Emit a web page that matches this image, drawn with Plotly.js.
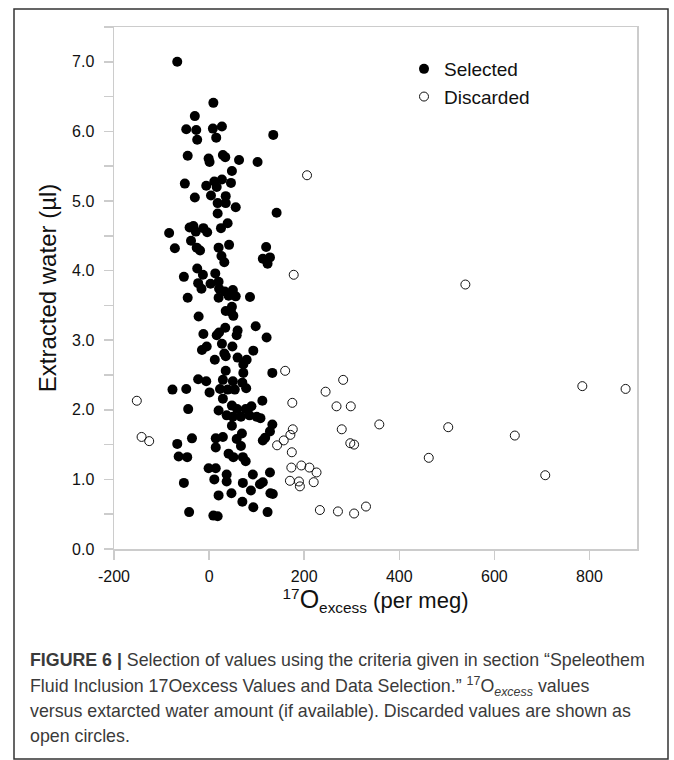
<!DOCTYPE html>
<html><head><meta charset="utf-8">
<script src="https://cdn.plot.ly/plotly-3.0.1.min.js"></script>
<style>html,body{margin:0;padding:0;background:#fff}</style>
</head><body><div id="chart" style="width:674px;height:760px"></div>
<script>
// Selected (filled) points: 17O-excess (per meg) and extracted water (µl)
const selectedX = [-67,9,-30,-48,-27,8,27,-25,15,135,-45,-1,1,29,34,63,102,48,-51,-6,11,16,27,46,-30,4,18,35,35,56,18,142,-84,-41,-33,-28,-12,-4,25,39,-72,-38,-26,-19,20,42,26,32,120,113,128,123,-25,-53,-13,13,-23,-16,3,20,21,33,50,56,-45,20,41,86,-22,35,48,51,46,34,98,-12,16,21,60,58,121,
 -15,-5,12,27,32,49,35,60,79,93,72,35,72,133,-23,-6,-77,-48,1,23,29,50,70,39,54,78,29,112,-44,20,48,37,50,59,77,89,85,100,108,48,67,133,128,118,113,-67,-36,14,29,14,58,69,67,-64,-46,41,51,71,77,-1,14,37,37,11,92,128,-53,71,107,113,88,129,134,20,47,70,93,-42,9,18,123];
const selectedY = [7.0,6.41,6.22,6.03,6.02,6.04,6.07,5.88,5.91,5.95,5.65,5.61,5.56,5.66,5.63,5.59,5.56,5.43,5.25,5.22,5.28,5.20,5.31,5.26,5.05,5.08,4.97,5.07,4.97,4.91,4.82,4.83,4.54,4.62,4.64,4.56,4.61,4.55,4.61,4.68,4.32,4.43,4.33,4.29,4.33,4.37,4.21,4.12,4.34,4.17,4.19,4.10,4.03,3.91,3.94,3.96,3.82,3.74,3.81,3.84,3.74,3.70,3.72,3.63,3.61,3.61,3.64,3.62,3.34,3.42,3.48,3.35,3.41,3.18,3.20,3.09,3.07,3.11,3.14,3.07,3.04,
 2.86,2.91,2.72,2.95,2.81,2.91,2.77,2.75,2.72,2.85,2.65,2.56,2.53,2.53,2.44,2.41,2.29,2.30,2.25,2.30,2.43,2.41,2.39,2.29,2.29,2.31,2.16,2.13,2.01,1.99,2.06,1.92,1.90,2.01,2.01,2.05,1.92,1.90,1.88,1.77,1.90,1.79,1.69,1.60,1.56,1.51,1.59,1.59,1.61,1.46,1.58,1.66,1.48,1.33,1.32,1.37,1.32,1.32,1.26,1.16,1.16,1.07,0.97,1.00,1.07,1.10,0.95,0.95,0.93,0.96,0.84,0.80,0.79,0.77,0.80,0.68,0.60,0.53,0.48,0.47,0.53];
// Discarded (open) points
const discardedX = [206,178,539,-152,-142,-126,160,245,175,176,171,157,143,174,173,194,211,226,170,189,191,220,233,282,268,298,279,358,297,305,503,462,643,707,785,876,271,305,330];
const discardedY = [5.37,3.94,3.80,2.13,1.61,1.55,2.56,2.26,2.10,1.72,1.64,1.56,1.49,1.39,1.17,1.20,1.17,1.10,0.98,0.97,0.90,0.96,0.56,2.43,2.05,2.05,1.72,1.79,1.52,1.50,1.75,1.31,1.63,1.06,2.34,2.30,0.54,0.51,0.61];
const seriesNames = ['Selected','Discarded'];
const xTickVals = [-200,0,200,400,600,800];
const yTickVals = [0,1,2,3,4,5,6,7];

const W=674,H=760, L=114, R=637, T=27, B=549;
const px = v => (v-L)/(R-L);
const py = v => (B-v)/(B-T);
const FONT = 'Liberation Sans, Arial, Helvetica, sans-serif';

const traces = [
 {x:selectedX,y:selectedY,name:seriesNames[0],type:'scatter',mode:'markers',
  marker:{color:'#000',size:10,line:{width:0}}},
 {x:discardedX,y:discardedY,name:seriesNames[1],type:'scatter',mode:'markers',
  marker:{color:'rgba(255,255,255,0)',size:9,line:{color:'#111',width:1}}}
];

const captionLines = [
 '<b>FIGURE 6 |</b> Selection of values using the criteria given in section “Speleothem',
 'Fluid Inclusion 17Oexcess Values and Data Selection.” <sup>17</sup>O<sub><i>excess</i></sub> values',
 'versus extarcted water amount (if available). Discarded values are shown as',
 'open circles.'
];
const captionY = [660,686,711,736];
const annotations = captionLines.map((t,i)=>({
  xref:'paper',yref:'paper',x:px(28),y:py(captionY[i]),xanchor:'left',yanchor:'middle',
  showarrow:false,text:t,font:{family:FONT,size:17.8,color:'#3a3a3a'}
}));

const layout = {
  width:W,height:H,
  margin:{l:L,r:W-R,t:T,b:H-B,pad:0},
  paper_bgcolor:'#fff',plot_bgcolor:'#fff',
  font:{family:FONT,color:'#111'},
  showlegend:true,
  legend:{x:px(404),y:py(50),xanchor:'left',yanchor:'top',bgcolor:'rgba(0,0,0,0)',
    font:{family:FONT,size:19,color:'#111'},itemsizing:'trace',tracegroupgap:0},
  xaxis:{range:[-200,900],tickvals:xTickVals,ticktext:xTickVals.map(String),
    showline:true,linecolor:'#cccccc',linewidth:1.5,mirror:true,
    ticks:'outside',ticklen:9,tickcolor:'#cccccc',tickwidth:1.5,ticklabelstandoff:3,
    showgrid:false,zeroline:false,tickfont:{family:FONT,size:16,color:'#111'},
    title:{text:'<sup>17</sup><span style="font-size:25px">O</span><sub>excess</sub> (per meg)',
      font:{family:FONT,size:22,color:'#111'},standoff:6}},
  yaxis:{range:[0,7.5],tickvals:yTickVals,ticktext:yTickVals.map(v=>v.toFixed(1)),
    showline:true,linecolor:'#cccccc',linewidth:1.5,mirror:true,
    ticks:'outside',ticklen:9,tickcolor:'#cccccc',tickwidth:1.5,ticklabelstandoff:6,
    minor:{dtick:0.5,ticks:'outside',ticklen:9,tickcolor:'#cccccc',tickwidth:1.5,showgrid:false},
    showgrid:false,zeroline:false,tickfont:{family:FONT,size:16,color:'#111'},
    title:{text:'Extracted water (µl)',font:{family:FONT,size:24,color:'#111'},standoff:8}},
  annotations:annotations,
  shapes:[{type:'rect',xref:'paper',yref:'paper',x0:px(14),x1:px(668),y0:py(9),y1:py(759),
    line:{color:'#333',width:1.5},fillcolor:'rgba(0,0,0,0)',layer:'above'}]
};
Plotly.newPlot('chart',traces,layout,{displayModeBar:false,staticPlot:true});
</script></body></html>
